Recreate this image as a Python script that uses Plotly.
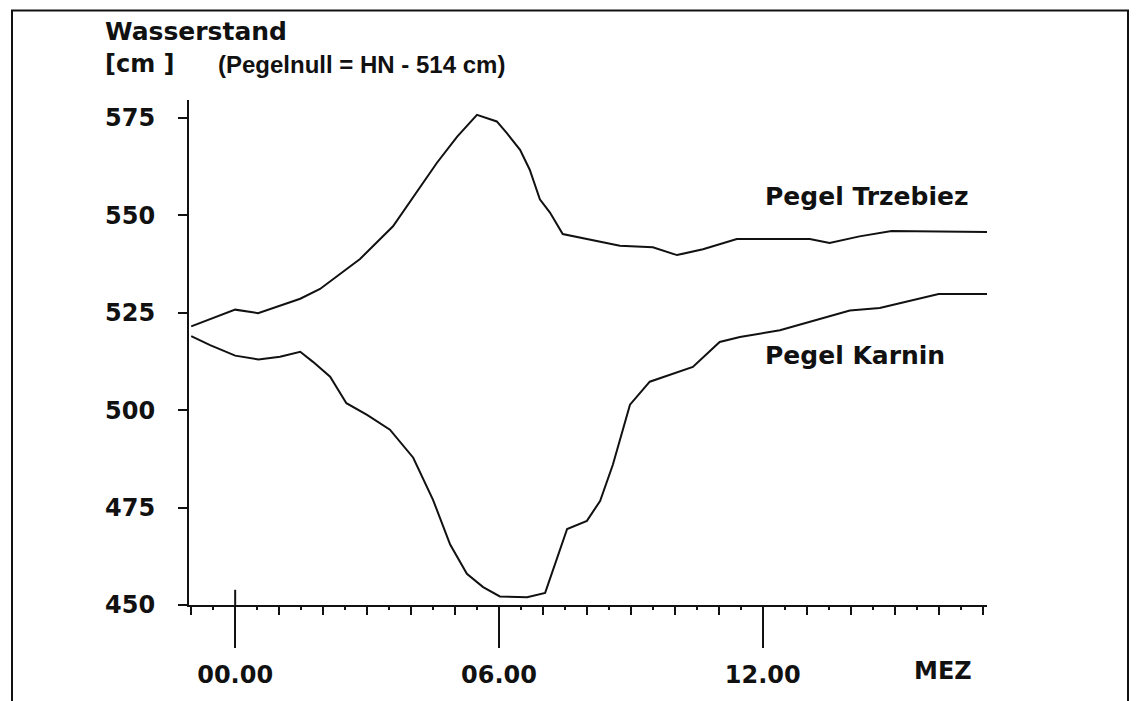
import plotly.graph_objects as go

# Pegel Trzebiez: time in hours (MEZ) and water level in cm
hours_trz = [-1.0, 0.0, 0.52, 0.8, 1.48, 1.93, 2.23, 2.84, 3.59, 4.05, 4.59, 5.05,
             5.5, 5.95, 6.18, 6.48, 6.7, 6.93, 7.16, 7.45, 8.0, 8.75, 9.5, 10.05,
             10.64, 11.41, 13.07, 13.52, 14.2, 14.93, 17.1]
level_trz = [521.5, 525.8, 524.9, 526.0, 528.6, 531.1, 533.7, 538.8, 547.2, 554.8, 563.5, 570.2,
             575.8, 574.1, 571.1, 566.8, 561.7, 554.1, 550.7, 545.2, 543.9, 542.2, 541.8, 539.8,
             541.3, 543.9, 543.9, 542.9, 544.6, 546.0, 545.7]

# Pegel Karnin: time in hours (MEZ) and water level in cm
hours_kar = [-1.0, -0.57, 0.0, 0.53, 1.02, 1.48, 1.77, 2.16, 2.53, 3.0, 3.52, 4.05,
             4.5, 4.89, 5.27, 5.64, 6.02, 6.64, 7.05, 7.23, 7.55, 8.0, 8.3, 8.59,
             8.98, 9.43, 9.95, 10.41, 11.02, 11.48, 12.39, 13.98, 14.66, 16.0, 17.1]
level_kar = [519.0, 516.7, 514.0, 513.0, 513.7, 515.0, 512.4, 508.6, 501.8, 498.8, 495.0, 487.8,
             477.0, 465.5, 458.0, 454.6, 452.2, 452.0, 453.1, 458.9, 469.5, 471.6, 476.7, 486.0,
             501.4, 507.3, 509.4, 511.1, 517.5, 518.8, 520.5, 525.6, 526.2, 529.8, 529.8]

y_ticks = [450, 475, 500, 525, 550, 575]
x_ticks = [0, 6, 12]
x_tick_labels = ["00.00", "06.00", "12.00"]

W, H = 1136, 701
M_L, M_R, M_T, M_B = 189, 149, 100, 93
X_RANGE = [-1.05, 17.1]
Y_RANGE = [450, 579.6]

FONT = "DejaVu Sans"
FONT_NARROW = "Liberation Sans"
INK = "#111111"


def px_x(px):
    return (px - M_L) / (W - M_L - M_R)


def px_y(py):
    return (H - M_B - py) / (H - M_T - M_B)


fig = go.Figure()

fig.add_trace(go.Scatter(
    x=hours_trz, y=level_trz, mode="lines",
    line=dict(color=INK, width=2), showlegend=False, hoverinfo="skip",
))
fig.add_trace(go.Scatter(
    x=hours_kar, y=level_kar, mode="lines",
    line=dict(color=INK, width=2), showlegend=False, hoverinfo="skip",
))
# carrier trace for the half-hour tick axis
fig.add_trace(go.Scatter(
    x=X_RANGE, y=[None, None], mode="lines", xaxis="x2",
    showlegend=False, hoverinfo="skip",
))

tick_font = dict(family=FONT, size=24, color=INK, weight="bold")

fig.update_layout(
    width=W, height=H,
    margin=dict(l=M_L, r=M_R, t=M_T, b=M_B),
    paper_bgcolor="white", plot_bgcolor="white",
    xaxis=dict(
        range=X_RANGE, showgrid=False, zeroline=False,
        showline=True, linecolor=INK, linewidth=2,
        tickmode="array", tickvals=x_ticks, ticktext=x_tick_labels,
        ticks="outside", ticklen=41, tickwidth=2, tickcolor=INK,
        tickfont=tick_font, ticklabelstandoff=6,
        minor=dict(tickmode="linear", tick0=0, dtick=1, ticks="outside",
                   ticklen=8, tickwidth=2, tickcolor=INK, showgrid=False),
    ),
    xaxis2=dict(
        range=X_RANGE, overlaying="x", anchor="y", side="bottom",
        showgrid=False, zeroline=False, showline=False,
        tickmode="linear", tick0=0.5, dtick=1, ticks="outside",
        ticklen=4, tickwidth=2, tickcolor=INK, showticklabels=False,
    ),
    yaxis=dict(
        range=Y_RANGE, showgrid=False, zeroline=False,
        showline=True, linecolor=INK, linewidth=2,
        tickmode="array", tickvals=y_ticks,
        ticks="outside", ticklen=9, tickwidth=2, tickcolor=INK,
        tickfont=tick_font, ticklabelstandoff=18,
    ),
)

# upward extension of the midnight tick
fig.add_shape(type="line", xref="x", yref="y", x0=0, x1=0,
              y0=450, y1=453.9, line=dict(color=INK, width=2))

# outer frame
fig.add_shape(type="rect", xref="paper", yref="paper",
              x0=px_x(12), x1=px_x(1128), y0=px_y(706), y1=px_y(10),
              line=dict(color=INK, width=2), layer="below")


def label(text, px, py, anchor="left", size=24, family=FONT):
    f = dict(family=family, size=size, color=INK, weight="bold")
    fig.add_annotation(text=text, xref="paper", yref="paper",
                       x=px_x(px), y=px_y(py), xanchor=anchor, yanchor="middle",
                       showarrow=False, font=f)


label("Wasserstand", 103, 31, size=25)
label("[cm ]", 103, 64, size=24)
label("(Pegelnull = HN - 514 cm)", 216, 64, size=24, family=FONT_NARROW)
label("Pegel Trzebiez", 763, 197, size=25)
label("Pegel Karnin", 763, 357, size=25)
label("MEZ", 943, 674, anchor="center")

fig.write_html("out.html")
